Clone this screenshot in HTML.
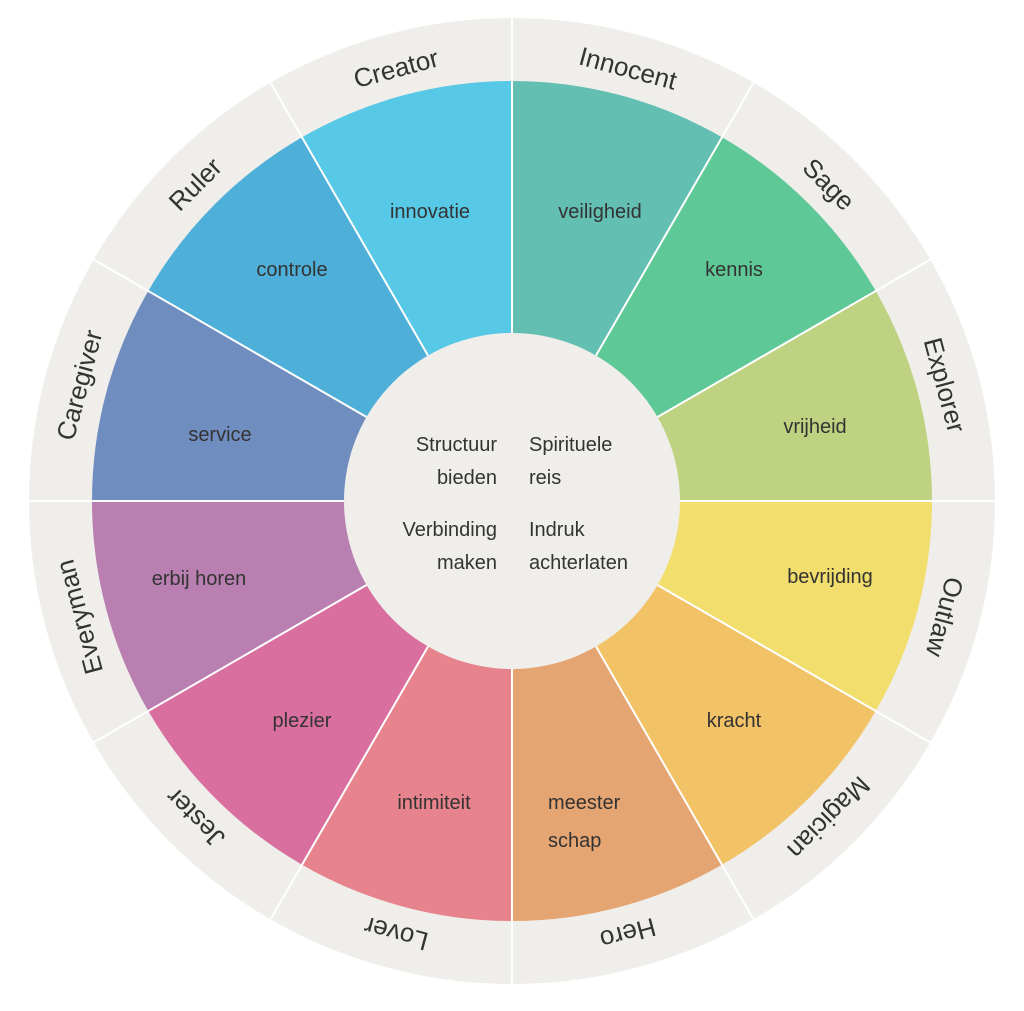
<!DOCTYPE html>
<html><head><meta charset="utf-8"><style>
html,body{margin:0;padding:0;background:#fff;}
svg{display:block;}
text{font-family:"Liberation Sans",sans-serif;fill:#333;}
</style></head><body>
<svg width="1024" height="1011" viewBox="0 0 1024 1011" xmlns="http://www.w3.org/2000/svg">
<circle cx="512" cy="501" r="483" fill="#f0eeeb"/>
<g id="w"></g>
<script>
(function(){
var cx=512,cy=501,R=420;
var cols=["#63bfb2","#5ec897","#bfd281","#f1de6d","#f2c267","#e5a572","#e6838c","#d96f9e","#b97fb0","#708dbf","#4eb0d9","#57c9e6"];
var names=["Innocent","Sage","Explorer","Outlaw","Magician","Hero","Lover","Jester","Everyman","Caregiver","Ruler","Creator"];
var g=document.getElementById('w');var ns="http://www.w3.org/2000/svg";
function pt(a,r){var t=(a-90)*Math.PI/180;return [cx+r*Math.cos(t),cy+r*Math.sin(t)];}
for(var i=0;i<12;i++){
var a0=i*30,a1=a0+30;var p0=pt(a0,R),p1=pt(a1,R);
var p=document.createElementNS(ns,'path');
p.setAttribute('d','M'+cx+' '+cy+'L'+p0[0]+' '+p0[1]+'A'+R+' '+R+' 0 0 1 '+p1[0]+' '+p1[1]+'Z');
p.setAttribute('fill',cols[i]);g.appendChild(p);
var t=document.createElementNS(ns,'text');
t.setAttribute('x',cx);t.setAttribute('y',cy-448+9);
t.setAttribute('text-anchor','middle');t.setAttribute('font-size','26');
t.setAttribute('transform','rotate('+(a0+15)+' '+cx+' '+cy+')');
t.textContent=names[i];g.appendChild(t);
}
for(var i=0;i<12;i++){var a=pt(i*30,168),b=pt(i*30,484);
var l=document.createElementNS(ns,'line');l.setAttribute('x1',a[0]);l.setAttribute('y1',a[1]);l.setAttribute('x2',b[0]);l.setAttribute('y2',b[1]);
l.setAttribute('stroke','#fff');l.setAttribute('stroke-width','2');g.appendChild(l);}
})();
</script>
<circle cx="512" cy="501" r="168" fill="#f0eeeb"/>
<g font-size="20">
<text x="430" y="218" text-anchor="middle">innovatie</text>
<text x="600" y="218" text-anchor="middle">veiligheid</text>
<text x="292" y="276" text-anchor="middle">controle</text>
<text x="734" y="276" text-anchor="middle">kennis</text>
<text x="220" y="441" text-anchor="middle">service</text>
<text x="815" y="433" text-anchor="middle">vrijheid</text>
<text x="199" y="585" text-anchor="middle">erbij horen</text>
<text x="830" y="583" text-anchor="middle">bevrijding</text>
<text x="302" y="727" text-anchor="middle">plezier</text>
<text x="734" y="727" text-anchor="middle">kracht</text>
<text x="434" y="809" text-anchor="middle">intimiteit</text>
<text x="548" y="809">meester</text>
<text x="548" y="847">schap</text>
<text x="497" y="451" text-anchor="end">Structuur</text>
<text x="497" y="484" text-anchor="end">bieden</text>
<text x="529" y="451">Spirituele</text>
<text x="529" y="484">reis</text>
<text x="497" y="536" text-anchor="end">Verbinding</text>
<text x="497" y="569" text-anchor="end">maken</text>
<text x="529" y="536">Indruk</text>
<text x="529" y="569">achterlaten</text>
</g>
</svg>
</body></html>
